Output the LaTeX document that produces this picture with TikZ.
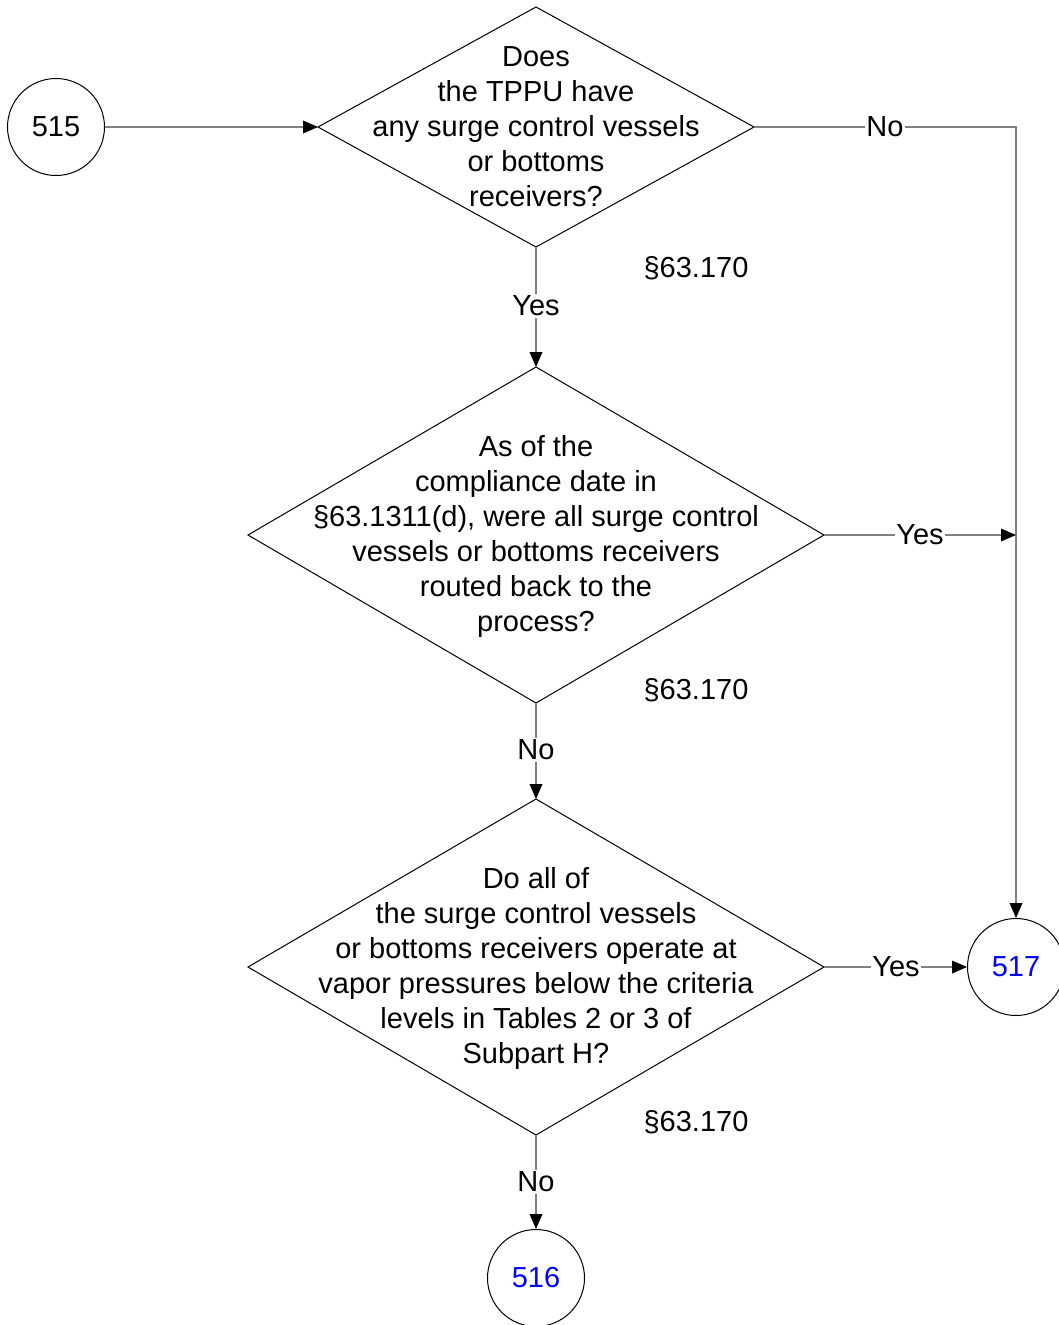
\documentclass[tikz,border=0pt]{standalone}
\usepackage{fontspec}
\setmainfont{Liberation Sans}
\usetikzlibrary{arrows.meta}
\definecolor{conn}{HTML}{808080}
\definecolor{refblue}{HTML}{0000FF}
\begin{document}
\begin{tikzpicture}[x=1pt,y=-1pt,
  every node/.style={font=\fontsize{29}{35}\selectfont},
  shapeline/.style={draw=black,line width=1pt},
  conn/.style={draw=conn,line width=1.4pt},
  arr/.style={conn,-{Triangle[length=15pt,width=13pt,line width=0pt,color=black,fill=black]}},
  circ/.style={shapeline,circle,minimum size=97pt,inner sep=0pt},
  dtext/.style={align=center,inner sep=0pt},
  lbl/.style={fill=white,inner sep=1.5pt},
  ref/.style={inner sep=0pt}]
\useasboundingbox (0,0) rectangle (1058,1325);
% connector nodes (circles)
\node[circ] (c515) at (56,127) {515};
\node[circ,text=refblue] (c517) at (1016,967) {517};
\node[circ,text=refblue] (c516) at (536,1278) {516};
% diamond 1
\coordinate (d1t) at (536,7);
\coordinate (d1b) at (536,247);
\coordinate (d1l) at (318,127);
\coordinate (d1r) at (754,127);
\draw[shapeline] (d1t) -- (d1r) -- (d1b) -- (d1l) -- cycle;
\node[dtext] (t1) at (536,127) {Does\\the TPPU have\\any surge control vessels\\or bottoms\\receivers?};
% diamond 2
\coordinate (d2t) at (536,367);
\coordinate (d2b) at (536,703);
\coordinate (d2l) at (248,535);
\coordinate (d2r) at (824,535);
\draw[shapeline] (d2t) -- (d2r) -- (d2b) -- (d2l) -- cycle;
\node[dtext] (t2) at (536,536) {As of the\\compliance date in\\§63.1311(d), were all surge control\\vessels or bottoms receivers\\routed back to the\\process?};
% diamond 3
\coordinate (d3t) at (536,799);
\coordinate (d3b) at (536,1135);
\coordinate (d3l) at (248,967);
\coordinate (d3r) at (824,967);
\draw[shapeline] (d3t) -- (d3r) -- (d3b) -- (d3l) -- cycle;
\node[dtext] (t3) at (536,968) {Do all of\\the surge control vessels\\or bottoms receivers operate at\\vapor pressures below the criteria\\levels in Tables 2 or 3 of\\Subpart H?};
% references
\node[ref] (r1) at (696,268) {§63.170};
\node[ref] (r2) at (696,690) {§63.170};
\node[ref] (r3) at (696,1122) {§63.170};
% connectors
\coordinate (corner) at (1016,127);
\coordinate (join) at (1016,535);
\draw[arr] (c515) -- (d1l);
\draw[arr] (d1r) -- (corner) -- (c517);
\draw[arr] (d2r) -- (join);
\draw[arr] (d1b) -- (d2t);
\draw[arr] (d2b) -- (d3t);
\draw[arr] (d3r) -- (c517);
\draw[arr] (d3b) -- (c516);
% connector labels
\node[lbl] (l1) at (885,127) {No};
\node[lbl] (l2) at (920,535) {Yes};
\node[lbl] (l3) at (896,967) {Yes};
\node[lbl] (l4) at (536,306) {Yes};
\node[lbl] (l5) at (536,750) {No};
\node[lbl] (l6) at (536,1182) {No};
\end{tikzpicture}
\end{document}
